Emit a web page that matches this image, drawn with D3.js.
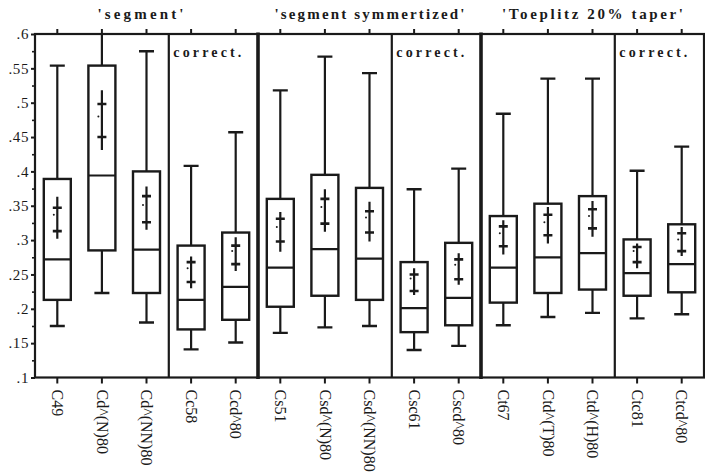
<!DOCTYPE html>
<html>
<head>
<meta charset="utf-8">
<script src="https://cdn.jsdelivr.net/npm/d3@7"></script>
<style>
  html, body { margin: 0; padding: 0; background: #fff; }
  svg { display: block; }
  text { font-family: "Liberation Serif", "Times New Roman", serif; fill: #1a1a1a; }
</style>
</head>
<body>
<svg id="chart" width="705" height="472"></svg>
<script>
// Estimator labels, left to right
const categories = [
  "C49", "Cd^(N)80", "Cd^(NN)80", "Cc58", "Ccd^80",
  "Cs51", "Csd^(N)80", "Csd^(NN)80", "Csc61", "Cscd^80",
  "Ct67", "Ctd^(T)80", "Ctd^(H)80", "Ctc81", "Ctcd^80"
];

// Box-plot statistics per estimator
const whiskerLow  = [0.175, 0.223, 0.180, 0.141, 0.151, 0.165, 0.173, 0.175, 0.140, 0.146, 0.176, 0.188, 0.194, 0.186, 0.192];
const quartile1   = [0.213, 0.285, 0.223, 0.170, 0.184, 0.203, 0.219, 0.213, 0.166, 0.176, 0.209, 0.223, 0.228, 0.219, 0.224];
const median      = [0.272, 0.394, 0.286, 0.213, 0.232, 0.260, 0.287, 0.273, 0.201, 0.216, 0.260, 0.275, 0.281, 0.252, 0.265];
const quartile3   = [0.389, 0.554, 0.400, 0.292, 0.311, 0.360, 0.395, 0.376, 0.268, 0.296, 0.335, 0.353, 0.364, 0.301, 0.323];
const whiskerHigh = [0.554, 0.620, 0.575, 0.408, 0.457, 0.518, 0.567, 0.543, 0.374, 0.404, 0.484, 0.535, 0.535, 0.401, 0.436];

// Mean with inner and outer interval marks
const meanValue   = [0.337, 0.480, 0.351, 0.259, 0.284, 0.319, 0.348, 0.333, 0.244, 0.264, 0.310, 0.326, 0.335, 0.284, 0.301];
const innerLow    = [0.313, 0.450, 0.326, 0.239, 0.265, 0.298, 0.324, 0.311, 0.226, 0.243, 0.291, 0.307, 0.317, 0.268, 0.284];
const innerHigh   = [0.347, 0.498, 0.364, 0.268, 0.292, 0.331, 0.360, 0.342, 0.250, 0.272, 0.320, 0.337, 0.345, 0.290, 0.310];
const outerLow    = [0.302, 0.431, 0.315, 0.230, 0.255, 0.283, 0.312, 0.298, 0.220, 0.235, 0.279, 0.295, 0.305, 0.259, 0.277];
const outerHigh   = [0.363, 0.518, 0.378, 0.276, 0.304, 0.341, 0.374, 0.356, 0.259, 0.281, 0.329, 0.348, 0.357, 0.295, 0.319];

// Panel groups: [first index, end index), and where the corrected part starts
const groupNames   = ["'segment'", "'segment symmertized'", "'Toeplitz 20% taper'"];
const groupStart   = [0, 5, 10];
const groupEnd     = [5, 10, 15];
const correctStart = [3, 8, 13];
const correctLabel = "correct.";

// Axis ticks
const yMajorTicks = [0.1, 0.15, 0.2, 0.25, 0.3, 0.35, 0.4, 0.45, 0.5, 0.55, 0.6];
const yMinorTicks = [0.125, 0.175, 0.225, 0.275, 0.325, 0.375, 0.425, 0.475, 0.525, 0.575];

const ink = "#1a1a1a";
const serif = "'Liberation Serif', 'Times New Roman', serif";
const svg = d3.select("#chart");
const plotLeft = 35, plotRight = 704, plotTop = 34, plotBottom = 377.5;

const x = d3.scaleBand().domain(categories).range([plotLeft, plotRight]).padding(0);
const y = d3.scaleLinear().domain([0.1, 0.6]).range([plotBottom, plotTop]);
const bw = x.bandwidth();
const cx = i => x(categories[i]) + bw / 2;

svg.append("defs").append("clipPath").attr("id", "plotClip")
  .append("rect").attr("x", plotLeft).attr("y", plotTop)
  .attr("width", plotRight - plotLeft).attr("height", plotBottom - plotTop);

// Group titles above the frame
const titleWidths = [86, 190, 181];
groupNames.forEach((name, g) => {
  const x0 = x(categories[groupStart[g]]);
  const x1 = x(categories[groupEnd[g] - 1]) + bw;
  const mid = (x0 + x1) / 2;
  const len = titleWidths[g];
  svg.append("text")
    .attr("x", mid - len / 2 - (g === 0 ? 6 : 0))
    .attr("y", 19)
    .attr("font-family", serif)
    .attr("font-size", 15)
    .attr("font-weight", "bold")
    .attr("textLength", len)
    .attr("lengthAdjust", "spacing")
    .text(name);
});

const plot = svg.append("g").attr("clip-path", "url(#plotClip)");

// Box plots
categories.forEach((c, i) => {
  const g = plot.append("g").attr("stroke", ink).attr("fill", "none");
  const xc = cx(i);
  const boxW = 27, capW = 15, crossW = 9;
  // whiskers
  g.append("line").attr("x1", xc).attr("x2", xc)
    .attr("y1", y(quartile3[i])).attr("y2", y(whiskerHigh[i])).attr("stroke-width", 2.2);
  g.append("line").attr("x1", xc).attr("x2", xc)
    .attr("y1", y(quartile1[i])).attr("y2", y(whiskerLow[i])).attr("stroke-width", 2.2);
  g.append("line").attr("x1", xc - capW / 2).attr("x2", xc + capW / 2)
    .attr("y1", y(whiskerHigh[i])).attr("y2", y(whiskerHigh[i])).attr("stroke-width", 2.4);
  g.append("line").attr("x1", xc - capW / 2).attr("x2", xc + capW / 2)
    .attr("y1", y(whiskerLow[i])).attr("y2", y(whiskerLow[i])).attr("stroke-width", 2.4);
  // box
  g.append("rect").attr("x", xc - boxW / 2).attr("width", boxW)
    .attr("y", y(quartile3[i])).attr("height", y(quartile1[i]) - y(quartile3[i]))
    .attr("fill", "#fff").attr("stroke-width", 2.4);
  g.append("line").attr("x1", xc - boxW / 2).attr("x2", xc + boxW / 2)
    .attr("y1", y(median[i])).attr("y2", y(median[i])).attr("stroke-width", 2.2);
  // mean interval
  g.append("line").attr("x1", xc).attr("x2", xc)
    .attr("y1", y(outerLow[i])).attr("y2", y(outerHigh[i])).attr("stroke-width", 2.2);
  [innerLow[i], innerHigh[i]].forEach(v => {
    g.append("line").attr("x1", xc - crossW / 2).attr("x2", xc + crossW / 2)
      .attr("y1", y(v)).attr("y2", y(v)).attr("stroke-width", 2.6);
  });
  g.append("circle").attr("cx", xc - 3.5).attr("cy", y(meanValue[i])).attr("r", 1)
    .attr("fill", ink).attr("stroke", "none");
});

// Panel separators
groupStart.forEach(s => {
  if (s > 0) {
    const xs = x(categories[s]);
    svg.append("line").attr("x1", xs).attr("x2", xs).attr("y1", plotTop - 1.5).attr("y2", plotBottom + 1.5)
      .attr("stroke", ink).attr("stroke-width", 3.6);
  }
});
correctStart.forEach(s => {
  const xs = x(categories[s]);
  svg.append("line").attr("x1", xs).attr("x2", xs).attr("y1", plotTop).attr("y2", plotBottom)
    .attr("stroke", ink).attr("stroke-width", 2.2);
  svg.append("text")
    .attr("x", xs + 4.5).attr("y", 57)
    .attr("font-family", serif)
    .attr("font-size", 14).attr("font-weight", "bold")
    .attr("textLength", 68).attr("lengthAdjust", "spacing")
    .text(correctLabel);
});

// Frame
svg.append("rect").attr("x", plotLeft).attr("y", plotTop)
  .attr("width", plotRight - plotLeft).attr("height", plotBottom - plotTop)
  .attr("fill", "none").attr("stroke", ink).attr("stroke-width", 2.2);

// Y axis
const fmt = d => d3.format(".2~f")(d).replace(/^0/, "");
const yAxis = svg.append("g").attr("transform", `translate(${plotLeft},0)`)
  .call(d3.axisLeft(y).tickValues(yMajorTicks).tickFormat(fmt).tickSize(4).tickPadding(2))
  .attr("font-family", serif);
yAxis.select(".domain").remove();
yAxis.selectAll("line").attr("stroke", ink).attr("stroke-width", 2);
yAxis.selectAll("text").attr("font-size", 15).attr("letter-spacing", 0.6).attr("fill", ink);
const yMinor = svg.append("g").attr("transform", `translate(${plotLeft},0)`)
  .call(d3.axisLeft(y).tickValues(yMinorTicks).tickFormat("").tickSize(3));
yMinor.select(".domain").remove();
yMinor.selectAll("line").attr("stroke", ink).attr("stroke-width", 1.6);

// Bottom axis with rotated labels
const xAxis = svg.append("g").attr("transform", `translate(0,${plotBottom})`)
  .call(d3.axisBottom(x).tickSize(6).tickPadding(12))
  .attr("font-family", serif);
xAxis.select(".domain").remove();
xAxis.selectAll("line").attr("stroke", ink).attr("stroke-width", 2);
xAxis.selectAll("text")
  .attr("font-size", 16).attr("fill", ink)
  .attr("transform", "rotate(90)")
  .attr("text-anchor", "start")
  .attr("x", 12).attr("y", 0).attr("dy", "0.33em");

// Top axis ticks only
const xTop = svg.append("g").attr("transform", `translate(0,${plotTop})`)
  .call(d3.axisTop(x).tickSize(5).tickFormat(""));
xTop.select(".domain").remove();
xTop.selectAll("line").attr("stroke", ink).attr("stroke-width", 2);
</script>
</body>
</html>
